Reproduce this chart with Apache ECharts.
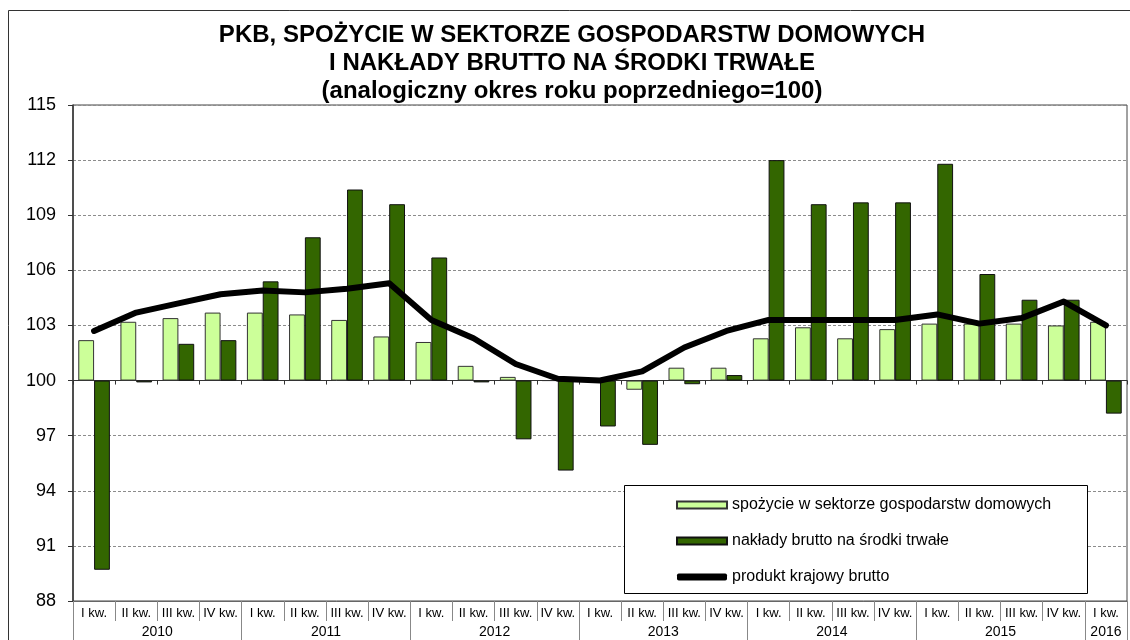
<!DOCTYPE html>
<html>
<head>
<meta charset="utf-8">
<script src="https://cdn.jsdelivr.net/npm/echarts@6/dist/echarts.min.js"></script>
<style>
    html, body { margin: 0; padding: 0; background: #fff; }
    #chart { width: 1130px; height: 640px; }
</style>
</head>
<body>
<div id="chart"></div>
<script>
const QUARTERS = ['I kw.', 'II kw.', 'III kw.', 'IV kw.']
const YEARS = ['2010', '2011', '2012', '2013', '2014', '2015', '2016']
const QUARTERS_PER_YEAR = [4, 4, 4, 4, 4, 4, 1]

// analogiczny okres roku poprzedniego = 100
const BASE = 100

const spozycie = [
    102.2, 103.2, 103.4, 103.7,
    103.7, 103.6, 103.3, 102.4,
    102.1, 100.8, 100.2, 100.0,
    100.0, 99.5, 100.7, 100.7,
    102.3, 102.9, 102.3, 102.8,
    103.1, 103.1, 103.1, 103.0,
    103.2
]

const naklady = [
    89.7, 99.9, 102.0, 102.2,
    105.4, 107.8, 110.4, 109.6,
    106.7, 99.9, 96.8, 95.1,
    97.5, 96.5, 99.8, 100.3,
    112.0, 109.6, 109.7, 109.7,
    111.8, 105.8, 104.4, 104.4,
    98.2
]

const pkb = [
    102.7, 103.7, 104.2, 104.7,
    104.9, 104.8, 105.0, 105.3,
    103.3, 102.3, 100.9, 100.1,
    100.0, 100.5, 101.8, 102.7,
    103.3, 103.3, 103.3, 103.3,
    103.6, 103.1, 103.4, 104.3,
    103.0
]

const FONT = "'Liberation Sans', Arial, sans-serif"

// kategorie kwartalne
let quarterCats = []
for (let y = 0; y < YEARS.length; y++) {
    for (let q = 0; q < QUARTERS_PER_YEAR[y]; q++) {
        quarterCats.push(QUARTERS[q])
    }
}

// os lat: punkty co pol kwartalu, etykieta na srodku roku, kreska na granicy
let yearCats = []
let yearTicks = {}
let yearLabels = {}
let pos = 0
for (let y = 0; y < YEARS.length; y++) {
    yearTicks[pos] = true
    yearLabels[pos + QUARTERS_PER_YEAR[y]] = YEARS[y]
    pos += QUARTERS_PER_YEAR[y] * 2
}
yearTicks[pos] = true
for (let i = 0; i <= pos; i++) {
    yearCats.push(yearLabels[i] || '')
}

function shift(arr) {
    return arr.map(v => +(v - BASE).toFixed(2))
}

const option = {
    animation: false,
    backgroundColor: '#fff',
    title: {
        text: 'PKB, SPOŻYCIE W SEKTORZE GOSPODARSTW DOMOWYCH\nI NAKŁADY BRUTTO NA ŚRODKI TRWAŁE\n(analogiczny okres roku poprzedniego=100)',
        left: 567,
        top: 16,
        textAlign: 'center',
        textStyle: {
            fontFamily: FONT,
            fontWeight: 'bold',
            fontSize: 24,
            lineHeight: 28,
            color: '#000'
        }
    },
    legend: {
        orient: 'vertical',
        left: 671,
        top: 492,
        itemWidth: 50,
        itemHeight: 7,
        itemGap: 20,
        z: 5,
        textStyle: { fontFamily: FONT, fontSize: 16, color: '#000' },
        data: [
            { name: 'spożycie w sektorze gospodarstw domowych', icon: 'rect' },
            { name: 'nakłady brutto na środki trwałe', icon: 'rect' },
            { name: 'produkt krajowy brutto', icon: 'roundRect', itemStyle: { color: '#000', borderWidth: 0 } }
        ]
    },
    graphic: [
        {
            type: 'rect',
            silent: true,
            z: -10,
            shape: { x: 8.5, y: 10.5, width: 1200, height: 700 },
            style: { fill: 'none', stroke: '#333', lineWidth: 1 }
        },
        {
            type: 'rect',
            silent: true,
            z: 3,
            shape: { x: 624.5, y: 485.5, width: 463, height: 108 },
            style: { fill: '#fff', stroke: '#000', lineWidth: 1 }
        }
    ],
    grid: {
        left: 73,
        right: 3,
        top: 105,
        bottom: 39,
        show: true,
        borderColor: '#444',
        borderWidth: 1,
        backgroundColor: 'transparent'
    },
    xAxis: [
        {
            // os na poziomie 100
            type: 'category',
            data: quarterCats,
            axisLine: { onZero: true, lineStyle: { color: '#333', width: 1 } },
            axisTick: { show: true, length: 4, lineStyle: { color: '#333' } },
            axisLabel: { show: false }
        },
        {
            type: 'category',
            data: quarterCats,
            position: 'bottom',
            axisLine: { onZero: false, lineStyle: { color: '#666' } },
            axisTick: { show: true, interval: 0, length: 20, lineStyle: { color: '#888' } },
            axisLabel: { interval: 0, margin: 6, fontFamily: FONT, fontSize: 13, color: '#000' }
        },
        {
            type: 'category',
            data: yearCats,
            position: 'bottom',
            offset: 20,
            boundaryGap: false,
            axisLine: { show: false, onZero: false },
            axisTick: {
                show: true,
                length: 20,
                interval: (i) => !!yearTicks[i],
                lineStyle: { color: '#888' }
            },
            axisLabel: {
                interval: (i, v) => v !== '',
                margin: 4,
                fontFamily: FONT,
                fontSize: 14,
                color: '#000'
            }
        }
    ],
    yAxis: {
        type: 'value',
        min: -12,
        max: 15,
        interval: 3,
        axisLine: { show: true, lineStyle: { color: '#333', width: 1.5 } },
        axisTick: { show: true, length: 5, lineStyle: { color: '#333' } },
        axisLabel: {
            margin: 17,
            fontFamily: FONT,
            fontSize: 18,
            color: '#000',
            formatter: v => String(v + BASE)
        },
        splitLine: { lineStyle: { color: '#8c8c8c', type: [3, 2], width: 1 } }
    },
    series: [
        {
            name: 'spożycie w sektorze gospodarstw domowych',
            type: 'bar',
            xAxisIndex: 1,
            data: shift(spozycie),
            barGap: '0%',
            barCategoryGap: '25%',
            itemStyle: { color: '#ccff99', borderColor: '#333', borderWidth: 1 }
        },
        {
            name: 'nakłady brutto na środki trwałe',
            type: 'bar',
            xAxisIndex: 1,
            data: shift(naklady),
            barGap: '0%',
            barCategoryGap: '25%',
            itemStyle: { color: '#336600', borderColor: '#111', borderWidth: 1 }
        },
        {
            name: 'produkt krajowy brutto',
            type: 'line',
            xAxisIndex: 1,
            data: shift(pkb),
            symbol: 'none',
            z: 6,
            lineStyle: { color: '#000', width: 6, cap: 'round', join: 'round' },
            itemStyle: { color: '#000' }
        }
    ]
}

let chart = echarts.init(document.getElementById('chart'))
chart.setOption(option)
</script>
</body>
</html>
